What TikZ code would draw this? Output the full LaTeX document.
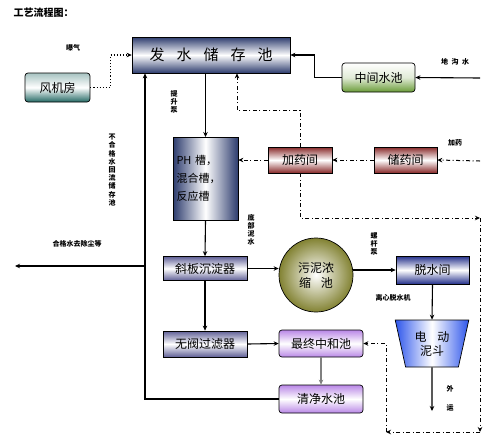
\documentclass[tikz,border=0pt]{standalone}
\usepackage{fontspec}
\setmainfont{Noto Sans CJK SC}
\usetikzlibrary{arrows.meta,shapes.geometric}
\definecolor{notte}{RGB}{45,60,110}
\definecolor{ottanio}{RGB}{35,105,100}
\definecolor{prato}{RGB}{105,155,55}
\definecolor{mattone}{RGB}{135,40,40}
\definecolor{lilla}{RGB}{95,95,150}
\definecolor{viola}{RGB}{185,135,230}
\definecolor{oliva}{RGB}{130,130,50}
\definecolor{azzurro}{RGB}{45,85,235}
\tikzset{
>={Stealth[length=5pt,width=4.5pt]},
vasca/.style={draw=black,line width=0.7pt,inner sep=1pt,font=\fontsize{12}{14}\selectfont},
tonda/.style={vasca,rounded corners=3pt},
freccia/.style={->,line width=1.1pt},
tratteggio/.style={->,line width=1pt,dash pattern=on 4pt off 2.5pt on 1pt off 2.5pt},
etichetta/.style={inner sep=0pt,align=center,font=\fontsize{7}{8.2}\selectfont\bfseries}}

\begin{document}
\begin{tikzpicture}[x=1pt,y=-1pt]
  \useasboundingbox (0,0) rectangle (500,440);

  \node[anchor=west,font=\fontsize{10}{12}\selectfont\bfseries] (titolo) at (10,13) {工艺流程图：};

  % vasche
  \node[vasca,minimum width=158pt,minimum height=36pt,top color=notte,bottom color=notte,middle color=white,font=\fontsize{15}{17}\selectfont] (fa) at (211,55) {发\hspace{0.8em}水\hspace{0.8em}储\hspace{0.8em}存\hspace{0.8em}池};
  \node[tonda,minimum width=65pt,minimum height=29pt,top color=ottanio!40,bottom color=ottanio,middle color=white] (fengji) at (57.5,87.5) {风机房};
  \node[tonda,minimum width=73pt,minimum height=29pt,top color=white,bottom color=prato,middle color=prato!20] (zhongjian) at (378.5,77.5) {中间水池};
  \node[vasca,minimum width=65pt,minimum height=83pt,left color=notte,right color=notte,middle color=white,align=left,anchor=north,font=\fontsize{11}{18}\selectfont,text width=58pt] (ph) at (205.5,137) {PH 槽，\\混合槽，\\反应槽};
  \node[vasca,minimum width=64pt,minimum height=26pt,top color=mattone,bottom color=mattone,middle color=white] (jiayao) at (300,160) {加药间};
  \node[vasca,minimum width=63pt,minimum height=26pt,top color=mattone,bottom color=mattone,middle color=white] (chuyao) at (405.5,160) {储药间};
  \node[vasca,minimum width=84pt,minimum height=24pt,top color=lilla,bottom color=lilla,middle color=white] (xieban) at (205,268.5) {斜板沉淀器};
  \node[circle,draw=black,line width=0.7pt,minimum size=74pt,inner sep=0pt,inner color=white,outer color=oliva,align=center,font=\fontsize{12}{15}\selectfont] (wuni) at (316,275) {污泥浓\\缩\hspace{0.8em}池};
  \node[vasca,minimum width=73pt,minimum height=28pt,top color=notte!80!blue,bottom color=notte!80!blue,middle color=white] (tuoshui) at (432.5,270) {脱水间};
  \node[vasca,trapezium,trapezium angle=75,trapezium stretches=true,shape border rotate=180,minimum width=74pt,minimum height=47pt,left color=azzurro,right color=azzurro,middle color=white,align=center] (nidou) at (432,343.5) {电\hspace{0.9em}动\\泥斗};
  \node[vasca,minimum width=84pt,minimum height=26pt,top color=lilla,bottom color=lilla,middle color=white] (wufa) at (205,344) {无阀过滤器};
  \node[tonda,minimum width=84pt,minimum height=27pt,top color=viola,bottom color=viola,middle color=white] (zuizhong) at (321,343.5) {最终中和池};
  \node[tonda,minimum width=84pt,minimum height=28pt,top color=viola,bottom color=viola,middle color=white] (qingjing) at (321,399) {清净水池};

  % punti liberi
  \coordinate (digou) at (480,78);
  \coordinate (yao) at (480,161);
  \coordinate (uscita) at (15,266);
  \coordinate (nodo) at (145,266);
  \coordinate (waiyun) at (432,411);
  \coordinate (c1) at (237,110);
  \coordinate (c2) at (480,218);
  \coordinate (c3) at (480,432);
  \coordinate (c4) at (386,432);

  % etichette
  \node[etichetta] (baoqi) at (73,48) {曝气};
  \node[etichetta] (tisheng) at (174,102) {提\\升\\泵};
  \node[etichetta] (buhege) at (112,170) {不\\合\\格\\水\\回\\流\\储\\存\\池};
  \node[etichetta] (hege) at (77,244) {合格水去除尘等};
  \node[etichetta] (dibu) at (251,230) {底\\部\\泥\\水};
  \node[etichetta] (luogan) at (374,244) {螺\\杆\\泵};
  \node[etichetta] (digoushui) at (455,62) {地\hspace{0.5em}沟\hspace{0.5em}水};
  \node[etichetta] (jiayaolab) at (455,143) {加药};
  \node[etichetta] (lixin) at (393,298) {离心脱水机};
  \node[etichetta] (wai) at (450,389) {外};
  \node[etichetta] (yun) at (450,408) {运};

  % flusso principale
  \draw[freccia] (digou) -- (zhongjian.east);
  \draw[freccia] (zhongjian.west) -- ++(-27,0) |- (fa.east);
  \draw[->,line width=1.1pt,dotted] (fengji.east) -- ++(20,0) |- (fa.west);
  \draw[freccia] (ph.north |- fa.south) -- (ph.north);
  \draw[freccia] (ph.south) -- (xieban.north);
  \draw[freccia] (xieban.east) -- (xieban.east -| wuni.west);
  \draw[freccia] (wuni.east |- tuoshui.west) -- (tuoshui.west);
  \draw[freccia] (tuoshui.south) -- (nidou.north);
  \draw[freccia] (nidou.south) -- (waiyun);
  \draw[freccia] (xieban.south) -- (wufa.north);
  \draw[freccia] (wufa.east) -- (zuizhong.west);
  \draw[freccia,gray] (zuizhong.south) -- (qingjing.north);
  \draw[line width=1.1pt] (qingjing.west) -| (nodo);
  \draw[freccia] (nodo) -- (uscita);
  \draw[freccia] (nodo) -- (nodo |- fa.south);

  % dosaggio
  \draw[tratteggio] (yao) -- (chuyao.east);
  \draw[tratteggio] (chuyao.west) -- (jiayao.east);
  \draw[tratteggio] (jiayao.west) -- (jiayao.west -| ph.east);
  \draw[tratteggio] (jiayao.north) |- (c1) -- (c1 |- fa.south);
  \draw[tratteggio] (jiayao.south) |- (c2);
  \draw[tratteggio] (c2) -- (c3);
  \draw[tratteggio] (c3) -- (c4);
  \draw[tratteggio] (c4) |- (zuizhong.east);
\end{tikzpicture}
\end{document}
